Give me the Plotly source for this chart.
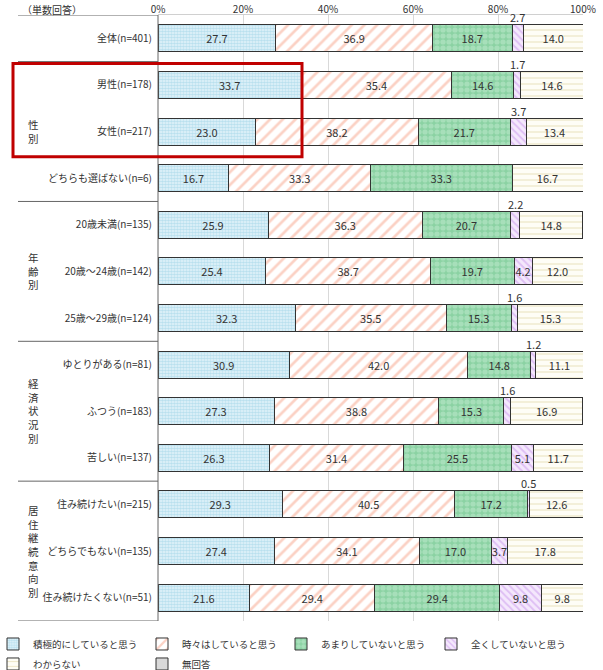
import plotly.graph_objects as go

# ---------------- data ----------------
categories = [
    "全体(n=401)",
    "男性(n=178)", "女性(n=217)", "どちらも選ばない(n=6)",
    "20歳未満(n=135)", "20歳～24歳(n=142)", "25歳～29歳(n=124)",
    "ゆとりがある(n=81)", "ふつう(n=183)", "苦しい(n=137)",
    "住み続けたい(n=215)", "どちらでもない(n=135)", "住み続けたくない(n=51)",
]
series_names = ["積極的にしていると思う", "時々はしていると思う", "あまりしていないと思う",
                "全くしていないと思う", "わからない", "無回答"]
s_active   = [27.7, 33.7, 23.0, 16.7, 25.9, 25.4, 32.3, 30.9, 27.3, 26.3, 29.3, 27.4, 21.6]
s_some     = [36.9, 35.4, 38.2, 33.3, 36.3, 38.7, 35.5, 42.0, 38.8, 31.4, 40.5, 34.1, 29.4]
s_little   = [18.7, 14.6, 21.7, 33.3, 20.7, 19.7, 15.3, 14.8, 15.3, 25.5, 17.2, 17.0, 29.4]
s_none     = [2.7, 1.7, 3.7, 0.0, 2.2, 4.2, 1.6, 1.2, 1.6, 5.1, 0.5, 3.7, 9.8]
s_unknown  = [14.0, 14.6, 13.4, 16.7, 14.8, 12.0, 15.3, 11.1, 16.9, 11.7, 12.6, 17.8, 9.8]
s_noans    = [0.0] * 13
series_values = [s_active, s_some, s_little, s_none, s_unknown, s_noans]
x_ticks = [0, 20, 40, 60, 80, 100]
x_tick_labels = ["0%", "20%", "40%", "60%", "80%", "100%"]
groups = [("性<br>別", 1, 3), ("年<br>齢<br>別", 4, 6),
          ("経<br>済<br>状<br>況<br>別", 7, 9), ("居<br>住<br>継<br>続<br>意<br>向<br>別", 10, 12)]
# labels written above the bar: (row, series)
outside_labels = [(0, 3), (1, 3), (2, 3), (4, 3), (6, 3), (7, 3), (8, 3), (10, 3)]

# ---------------- style ----------------
FONT = "Noto Sans CJK JP"
patterns = [
    dict(shape=".", fgcolor="#8ccbe2", bgcolor="#e6f4fa", size=3, solidity=0.6),
    dict(shape="/", fgcolor="#f7a48a", bgcolor="#ffffff", size=9, solidity=0.3),
    dict(shape=".", fgcolor="#c4ebd2", bgcolor="#8bd2a3", size=6, solidity=0.6),
    dict(shape="\\", fgcolor="#c793ec", bgcolor="#f4e8fc", size=5, solidity=0.35),
    dict(shape="-", fgcolor="#ddd19c", bgcolor="#fefdf6", size=6, solidity=0.22),
    dict(shape="", fgcolor="#bfbfbf", bgcolor="#d9d9d9"),
]
colors = ["#e6f4fa", "#ffffff", "#8bd2a3", "#f4e8fc", "#fefdf6", "#d9d9d9"]
# legend symbol centre positions (px) for each series, and row top (px)
legend_sym_x = [12, 161, 300, 450, 12, 161]
legend_top_y = [630, 630, 630, 630, 650, 650]

rows = list(range(len(categories)))
fig = go.Figure()
legend_ids = ["legend"] + [f"legend{i}" for i in range(2, len(series_names) + 1)]
for si, (name, vals) in enumerate(zip(series_names, series_values)):
    texts = []
    for ri, v in enumerate(vals):
        if v == 0 or (ri, si) in outside_labels:
            texts.append("")
        else:
            texts.append(f"{v:.1f}")
    fig.add_trace(go.Bar(
        name=name, y=rows, x=vals, orientation="h",
        marker=dict(color=colors[si], pattern=patterns[si],
                    line=dict(color="#333333", width=1)),
        text=texts, textposition="inside", insidetextanchor="middle",
        textangle=0, constraintext="none",
        textfont=dict(family=FONT, size=11, color="#333333"),
        hoverinfo="skip", legend=legend_ids[si],
    ))

annotations = []
# labels above narrow segments
for (ri, si) in outside_labels:
    start = sum(series_values[k][ri] for k in range(si))
    v = series_values[si][ri]
    annotations.append(dict(x=start + v / 2, y=ri, xref="x", yref="y", text=f"{v:.1f}",
                            showarrow=False, yshift=21,
                            font=dict(family=FONT, size=11, color="#333333")))

# plot area: x 158..583 px, y 15..621.5 px
L, R, T, B = 158, 583, 15, 621.5
def px(xp):
    return (xp - L) / (R - L)
def py(yp):
    return (B - yp) / (B - T)

for text, a, b in groups:
    annotations.append(dict(x=px(33), y=(a + b) / 2, xref="paper", yref="y", text=text,
                            showarrow=False, xanchor="center", yanchor="middle",
                            font=dict(family=FONT, size=10.5, color="#333333")))
annotations.append(dict(x=px(20), y=py(0), xref="paper", yref="paper",
                        text="（単数回答）", showarrow=False, xanchor="left", yanchor="top",
                        font=dict(family=FONT, size=10, color="#333333")))

shapes = []
for yb in [-0.5, 0.5, 3.5, 6.5, 9.5, 12.5]:
    shapes.append(dict(type="line", xref="paper", yref="y", x0=px(18), x1=0, y0=yb, y1=yb,
                       line=dict(color="#666666", width=1)))
shapes.append(dict(type="line", xref="paper", yref="y", x0=0, x1=0, y0=-0.5, y1=12.5,
                   line=dict(color="#666666", width=1)))
shapes.append(dict(type="rect", xref="paper", yref="y", x0=px(13), x1=px(302),
                   y0=0.54, y1=2.54, line=dict(color="#c00000", width=3)))

legend_layout = {}
for si, lid in enumerate(legend_ids):
    legend_layout[lid] = dict(
        orientation="h", x=px(legend_sym_x[si] - 19), y=py(legend_top_y[si]),
        xanchor="left", yanchor="top", bgcolor="rgba(0,0,0,0)",
        font=dict(family=FONT, size=9.5, color="#333333"), itemwidth=30,
    )

fig.update_layout(
    width=603, height=670,
    margin=dict(l=L, r=603 - R, t=T, b=670 - B, pad=0, autoexpand=False),
    barmode="stack", bargap=0.42,
    plot_bgcolor="white", paper_bgcolor="white",
    font=dict(family=FONT, size=10, color="#333333"),
    xaxis=dict(side="top", range=[0, 100], tickvals=x_ticks, ticktext=x_tick_labels,
               showgrid=True, gridcolor="#d9d9d9", gridwidth=1, zeroline=False,
               showline=True, linecolor="#d0d0d0", ticks="", ticklabelstandoff=-3,
               tickfont=dict(family=FONT, size=10, color="#333333"), fixedrange=True),
    yaxis=dict(range=[12.5, -0.5], tickvals=rows, ticktext=categories, ticks="",
               showgrid=False, zeroline=False, showline=False, ticklabelstandoff=5,
               tickfont=dict(family=FONT, size=10, color="#333333"), fixedrange=True),
    annotations=annotations, shapes=shapes,
    showlegend=True,
    **legend_layout,
)

fig.write_html("out.html", config={"displayModeBar": False},
               post_script="document.body.style.margin='0';")
